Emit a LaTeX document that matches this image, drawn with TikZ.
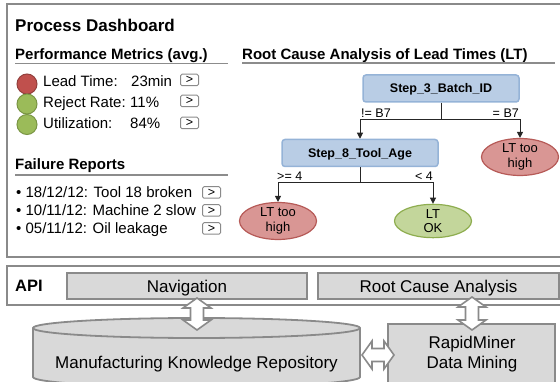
\documentclass[tikz,border=0pt]{standalone}
\usepackage{fontspec}
\setmainfont{Liberation Sans}
\usetikzlibrary{arrows.meta,shapes.geometric}

\definecolor{frame}{HTML}{8A8A8A}
\definecolor{rule}{HTML}{8C8C8C}
\definecolor{modfill}{HTML}{D9D9D9}
\definecolor{stepfill}{HTML}{B9CDE5}
\definecolor{stepline}{HTML}{95B3D7}
\definecolor{badfill}{HTML}{D99694}
\definecolor{badline}{HTML}{B65A57}
\definecolor{goodfill}{HTML}{C3D69B}
\definecolor{goodline}{HTML}{8EAD4F}
\definecolor{lampred}{HTML}{C0504D}
\definecolor{lampredline}{HTML}{93403D}
\definecolor{lampgreen}{HTML}{9BBB59}
\definecolor{lampgreenline}{HTML}{7A9544}

% block double arrow between two points (vertical or horizontal)
\newcommand\blockarrowv[3]{% x, top y, bottom y
  \filldraw[fill=white,draw=frame,line width=1.6pt,line join=miter]
    (#1,#2) -- (#1+14,#2+10) -- (#1+6.5,#2+10) -- (#1+6.5,#3-10) -- (#1+14,#3-10)
    -- (#1,#3) -- (#1-14,#3-10) -- (#1-6.5,#3-10) -- (#1-6.5,#2+10) -- (#1-14,#2+10) -- cycle;}
\newcommand\blockarrowh[3]{% y, left x, right x
  \filldraw[fill=white,draw=frame,line width=1.6pt,line join=miter]
    (#2,#1) -- (#2+10,#1-14) -- (#2+10,#1-6.5) -- (#3-10,#1-6.5) -- (#3-10,#1-14)
    -- (#3,#1) -- (#3-10,#1+14) -- (#3-10,#1+6.5) -- (#2+10,#1+6.5) -- (#2+10,#1+14) -- cycle;}

\begin{document}
\begin{tikzpicture}[x=1pt,y=-1pt,
  title/.style={font=\fontsize{17}{20}\selectfont\bfseries,anchor=base west,inner sep=0},
  head/.style={font=\fontsize{15}{18}\selectfont\bfseries,anchor=base west,inner sep=0},
  txt/.style={font=\fontsize{15}{18}\selectfont,anchor=base west,inner sep=0},
  btn/.style={draw=frame,rounded corners=1.5pt,line width=1pt,minimum width=18pt,
    minimum height=11.5pt,inner sep=0,font=\fontsize{12.5}{12}\selectfont},
  lamp/.style={circle,minimum size=20pt,inner sep=0,line width=1pt},
  stepbox/.style={rectangle,rounded corners=3pt,fill=stepfill,draw=stepline,line width=1.5pt,
    minimum width=156pt,minimum height=27pt,inner sep=0,text height=9pt,text depth=0pt,
    font=\fontsize{12.5}{14}\selectfont\bfseries},
  leaf/.style={ellipse,minimum width=77pt,minimum height=32pt,inner sep=0,line width=1.2pt,
    align=center,font=\fontsize{13}{14.5}\selectfont},
  bad/.style={leaf,fill=badfill,draw=badline},
  good/.style={leaf,fill=goodfill,draw=goodline},
  edgelbl/.style={font=\fontsize{12.5}{14}\selectfont,inner sep=0},
  branch/.style={line width=1pt,draw=black!85},
  tip/.style={-{Triangle[length=6pt,width=6pt]}},
  layer/.style={draw=frame,line width=2pt},
  module/.style={draw=frame,fill=modfill,line width=1.8pt,inner sep=0,
    font=\fontsize{17}{20}\selectfont,text height=12.2pt,text depth=0pt},
  underline/.style={draw=rule,line width=1.5pt}]

\useasboundingbox (0,0) rectangle (560,382);

% ---------- dashboard frame ----------
\draw[layer] (7,4) rectangle (566,257);
\node[title] (ttl) at (15,32) {Process Dashboard};

% performance metrics
\node[head] (pm) at (15,60) {Performance Metrics (avg.)};
\draw[underline] (15,63.5) -- (228,63.5);

\node[lamp,fill=lampred,draw=lampredline] (l1) at (27,84) {};
\node[lamp,fill=lampgreen,draw=lampgreenline] (l2) at (27,104) {};
\node[lamp,fill=lampgreen,draw=lampgreenline] (l3) at (27,124.5) {};

\node[txt] (m1) at (43,87) {Lead Time:};
\node[txt] (v1) at (131,87) {23min};
\node[txt] (m2) at (43,107.5) {Reject Rate:};
\node[txt] (v2) at (130,107.5) {11\%};
\node[txt] (m3) at (43,129) {Utilization:};
\node[txt] (v3) at (130,129) {84\%};

\node[btn] (b1) at (189.5,80) {>};
\node[btn] (b2) at (189.5,101) {>};
\node[btn] (b3) at (189.5,123) {>};

% failure reports
\node[head] (fr) at (15,170) {Failure Reports};
\draw[underline] (15,175) -- (228,175);

\node[txt] (f1) at (16,198) {• 18/12/12: Tool 18 broken};
\node[txt] (f2) at (16,216) {• 10/11/12: Machine 2 slow};
\node[txt] (f3) at (16,234) {• 05/11/12: Oil leakage};

\node[btn] (c1) at (211.5,192.5) {>};
\node[btn] (c2) at (211.5,210.5) {>};
\node[btn] (c3) at (211.5,228.5) {>};

% root cause tree
\node[head] (rca) at (242,59.5) {Root Cause Analysis of Lead Times (LT)};
\draw[underline] (242,63) -- (555,63);

\node[stepbox] (s3) at (441,88.5) {Step\_3\_Batch\_ID};
\node[stepbox] (s8) at (360,153) {Step\_8\_Tool\_Age};
\node[bad] (hi1) at (520,157) {LT too\\high};
\node[bad] (hi2) at (278,221) {LT too\\high};
\node[good] (ok) at (433,221) {LT\\OK};

\coordinate (j1) at (441,120);
\coordinate (j2) at (360,183);
\draw[branch] (s3.south) -- (j1);
\draw[branch,tip] (j1) -| (s8.north);
\draw[branch,tip] (j1) -| (hi1.north);
\draw[branch] (s8.south) -- (j2);
\draw[branch,tip] (j2) -| (hi2.north);
\draw[branch,tip] (j2) -| (ok.north);

\node[edgelbl,anchor=base west] (e1) at (361,118) {!= B7};
\node[edgelbl,anchor=base east] (e2) at (519,118) {= B7};
\node[edgelbl,anchor=base west] (e3) at (277,181) {>= 4};
\node[edgelbl,anchor=base east] (e4) at (433,181) {< 4};

% ---------- API layer ----------
\draw[layer] (7,266) rectangle (566,305);
\node[font=\fontsize{16.5}{18}\selectfont\bfseries,anchor=base west,inner sep=0] (api) at (15,292) {API};
\node[module,minimum width=240pt,minimum height=26pt] (nav) at (187,286) {Navigation};
\node[module,minimum width=241pt,minimum height=26pt] (rc) at (438.5,286) {Root Cause Analysis};

% ---------- repository cylinder ----------
\filldraw[fill=modfill,draw=frame,line width=1.8pt]
  (33,328) -- (33,377) arc[start angle=180,end angle=0,x radius=163.5,y radius=10]
  -- (360,328) arc[start angle=0,end angle=-180,x radius=163.5,y radius=10] -- cycle;
\draw[frame,line width=1.8pt] (33,328) arc[start angle=180,end angle=0,x radius=163.5,y radius=10];
\node[font=\fontsize{17}{20}\selectfont,anchor=base,inner sep=0] (repo) at (196.5,368)
  {Manufacturing Knowledge Repository};

% ---------- data mining box ----------
\node[module,minimum width=167pt,minimum height=70pt] (rm) at (471.5,359) {};
\node[font=\fontsize{17}{20}\selectfont,align=center,inner sep=0,anchor=base] (rmt) at (472,368)
  {RapidMiner\\Data Mining};

% ---------- interface arrows ----------
\blockarrowv{197}{298}{330}
\blockarrowv{472}{297}{330}
\blockarrowh{355}{362}{394}

\end{tikzpicture}
\end{document}
